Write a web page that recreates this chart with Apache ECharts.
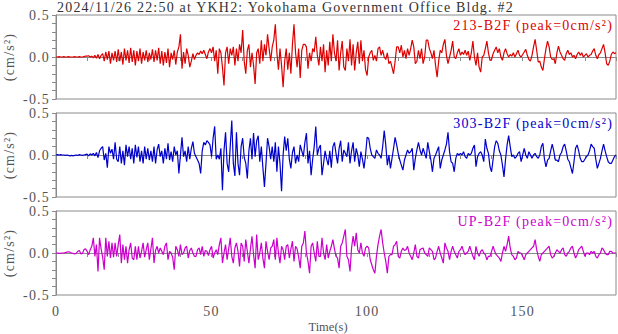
<!DOCTYPE html>
<html>
<head>
<meta charset="utf-8">
<script src="https://cdn.jsdelivr.net/npm/echarts@6/dist/echarts.min.js"></script>
<style>
  html, body { margin: 0; padding: 0; background: #fff; }
  #myChart { width: 618px; height: 334px; }
  #myChart text { letter-spacing: 1.2px; }
</style>
</head>
<body>
<div id="myChart"></div>
<script>
// 记录信息
const titleText = "2024/11/26 22:50 at YKH2: Yokohama Government Office Bldg. #2";
const channels = ["213-B2F", "303-B2F", "UP-B2F"];
const peaks = ["0", "0", "0"];
const xLabels = [0, 50, 100, 150];
const xName = "Time(s)";
const yName = "(cm/s²)";
const dt = 0.5; // 采样间隔 (s)

// 加速度波形 (cm/s2)，每 0.5s 一个点
const acc213 = [
  0, 0, 0.005, 0, 0, 0.005, 0, 0, 0.005, 0,
  0, 0, 0.005, 0, 0, 0.005, 0, 0, 0.005, 0.01,
  0.01, 0.015, 0, 0.01, -0.01, 0.02, -0.015, 0.03, -0.02, 0.02,
  0.04, -0.05, 0.06, -0.03, 0.07, -0.08, 0.05, -0.04, 0.07, -0.06,
  0.09, -0.05, 0.06, -0.09, 0.1, -0.04, 0.08, -0.07, 0.11, -0.06,
  0.08, -0.1, 0.07, -0.05, 0.1, -0.08, 0.06, -0.04, 0.08, -0.06,
  0.05, -0.03, 0.09, -0.06, 0.08, -0.04, 0.11, -0.08, 0.07, -0.1,
  0.06, -0.07, 0.1, -0.12, 0.05, -0.03, 0.08, -0.09, 0.06, 0.12,
  0.27, -0.14, 0.06, -0.08, 0.1, 0.02, -0.12, -0.05, 0.04, -0.03,
  0.02, 0.05, 0.03, 0.07, 0.04, 0.08, 0.03, -0.02, 0.06, 0.1,
  0.05, 0.12, -0.05, 0.08, -0.2, 0.1, 0.05, -0.12, -0.34, 0.05,
  0.12, -0.08, 0.1, 0.02, 0.12, -0.1, 0.1, -0.05, 0.15, 0.05,
  0.32, -0.05, -0.2, 0.08, 0.15, -0.12, 0.05, -0.1, -0.32, 0.05,
  0.1, -0.08, 0.2, -0.05, 0.15, 0.02, 0.27, 0.1, -0.05, 0.12,
  0.2, 0.39, 0.05, -0.15, 0.1, -0.1, -0.36, -0.05, 0.1, -0.15,
  0.05, -0.2, 0.15, 0.39, 0.05, -0.12, 0.1, -0.25, 0.08, 0.15,
  0.15, 0.12, -0.14, 0.05, -0.05, 0.1, 0.06, 0.24, 0.02, -0.1,
  0.12, -0.05, 0.15, -0.18, 0.08, -0.1, 0.18, -0.05, 0.27, 0.05,
  -0.05, 0.2, -0.16, 0.05, 0.19, -0.12, -0.16, 0.1, -0.05, 0.21,
  -0.1, 0.15, -0.16, 0.05, 0.18, -0.08, 0.2, -0.05, 0.08, -0.15,
  -0.22, 0, 0.05, 0.08, -0.04, 0.02, -0.05, 0.1, 0.12, 0.02,
  0.08, 0, -0.03, 0.05, -0.08, -0.05, -0.12, -0.2, -0.05, 0.12,
  0.12, 0.05, 0.14, 0, 0.08, -0.02, 0.1, 0.02, 0.1, 0.2,
  0.12, -0.08, -0.05, 0.08, -0.02, 0.1, -0.08, 0, 0.2, 0.2,
  0.1, 0.05, -0.02, 0.08, -0.1, -0.24, -0.05, 0.08, 0.05, 0.15,
  0.21, 0.02, -0.08, 0, 0.08, 0.19, 0, -0.02, 0.05, 0.1,
  0.02, 0.06, 0.03, 0.08, 0.02, 0.07, -0.04, 0.05, 0.19, 0,
  -0.1, 0.05, -0.12, -0.18, 0, 0.02, 0.1, 0.19, 0.05, -0.04,
  -0.03, 0.04, 0.08, 0.12, 0.05, 0.1, 0, -0.04, 0.05, 0.1,
  0.04, 0, 0.03, 0.01, 0.05, 0, 0.04, 0.08, 0.02, 0,
  0.03, 0.06, 0.09, 0.02, -0.03, -0.05, 0.02, 0.12, 0.21, 0.08,
  -0.06, -0.05, -0.12, -0.16, -0.02, 0.1, 0.19, 0.12, 0, -0.03,
  -0.02, -0.08, 0.05, 0.13, 0.06, 0.02, -0.02, -0.04, 0.04, 0.08,
  0.03, 0.05, 0, 0.02, -0.02, 0.03, 0.06, 0.02, 0.05, 0,
  0.02, 0.04, 0, 0.02, 0.03, 0.07, 0.1, 0.02, -0.02, 0.03,
  0.05, 0.1, 0.15, 0.05, -0.08, -0.1, -0.05, 0.03, 0.06, 0.04, 0.05
];

const acc303 = [
  0, 0.005, 0, 0.005, 0, 0, -0.005, 0, -0.005, -0.01,
  -0.005, -0.01, -0.005, 0, -0.005, 0.005, 0, -0.005, 0, 0.005,
  0.01, -0.01, 0.015, 0, 0.02, -0.01, 0.03, -0.03, 0.05, 0.08,
  0.1, -0.06, 0.02, -0.15, 0.1, 0.02, 0.07, -0.05, 0.15, -0.05,
  -0.08, 0.1, -0.1, 0.05, -0.12, 0.12, -0.02, 0.1, -0.05, 0.08,
  -0.1, 0.12, -0.03, 0.1, -0.08, 0.05, -0.1, 0.1, -0.05, 0.08,
  -0.06, 0.05, -0.08, 0.1, -0.1, 0.06, 0.13, -0.02, 0.05, -0.1,
  0.08, -0.05, 0.14, -0.06, 0.04, -0.08, 0.1, 0, 0.05, -0.22,
  0, 0.21, -0.02, 0.05, -0.08, 0.1, -0.05, 0.08, 0.16, 0.02,
  -0.02, -0.06, -0.1, -0.22, 0.05, 0.15, 0.12, 0.17, 0.15, 0.12,
  -0.02, 0.2, 0.34, -0.05, 0, -0.05, 0.08, -0.42, 0.05, 0.27,
  -0.1, -0.2, 0.1, 0.41, -0.1, -0.25, 0.27, -0.1, -0.24, 0.1,
  0.2, -0.03, -0.1, -0.28, 0.05, 0.2, -0.05, 0.26, -0.02, 0.17,
  0.23, -0.08, 0.1, -0.15, -0.38, -0.1, 0.2, 0.1, -0.05, 0.1,
  -0.08, 0.15, -0.2, 0.1, -0.1, -0.43, 0, 0.22, 0.05, 0.2,
  -0.05, -0.16, 0.03, 0.1, -0.1, 0, -0.08, 0.12, 0.05, -0.02,
  0.15, 0.26, -0.1, 0.05, -0.24, -0.05, 0.1, 0.34, 0, 0.08,
  0.12, -0.24, -0.1, 0.05, -0.05, -0.12, 0.05, -0.15, 0.1, 0.15,
  0.02, -0.1, 0.08, 0.17, -0.08, 0.06, 0.02, -0.02, 0.15, -0.1,
  0.05, 0.15, -0.08, 0.08, 0, -0.14, 0.04, -0.05, -0.16, 0,
  0.21, 0.2, 0.08, 0, -0.02, -0.04, 0.06, 0.02, 0, -0.04,
  0.1, 0.29, 0.12, -0.12, 0, -0.16, -0.04, 0.08, 0.21, 0.12,
  0.02, -0.06, -0.12, -0.18, -0.06, 0, 0.06, 0.02, 0.04, 0.08,
  -0.18, -0.04, 0.06, 0.15, 0.06, 0, 0.08, 0.02, -0.04, 0.15,
  0.04, -0.06, -0.2, -0.04, 0, 0.05, 0.1, -0.16, -0.06, 0,
  0.06, 0.13, 0.27, 0.04, -0.08, -0.1, -0.2, -0.04, 0.02, 0,
  0.02, 0, 0.04, -0.02, -0.04, 0.02, 0, 0.02, 0.08, 0.12,
  -0.14, -0.02, 0.02, 0.04, 0, -0.08, 0.19, 0.08, 0.02, -0.14,
  -0.2, -0.05, 0.1, 0.17, 0.14, 0.05, 0, -0.12, -0.26, -0.05,
  0.12, 0.23, 0.1, -0.02, 0, -0.04, -0.02, 0.02, 0.04, -0.08,
  0, 0.08, 0, -0.04, 0.04, 0, -0.04, 0, 0.02, -0.02,
  -0.04, 0, 0.1, 0.14, -0.05, -0.14, -0.06, -0.04, 0.05, 0.13,
  0.05, -0.06, -0.06, -0.08, 0, 0.03, 0.1, 0.13, 0.05, -0.05,
  -0.08, -0.15, -0.22, -0.08, 0.08, 0.12, 0.05, -0.04, -0.08, -0.08,
  -0.05, -0.02, 0, 0.05, 0.13, 0.1, 0.08, -0.05, -0.16, -0.1,
  -0.04, 0.05, 0.13, 0.05, -0.02, -0.08, -0.1, -0.1, -0.06, -0.02, 0
];

const accUP = [
  0, 0, -0.005, -0.005, 0, 0, 0.005, 0.01, 0.015, 0.01,
  0, -0.005, -0.01, -0.005, 0.02, 0.03, -0.01, -0.005, 0.04, 0.05,
  0.02, -0.02, 0.04, 0.08, 0.18, -0.04, 0.1, -0.22, 0.18, 0.05,
  -0.05, -0.2, 0.18, -0.04, 0.14, -0.06, 0.12, -0.05, 0.12, -0.04,
  0.1, 0.22, -0.12, 0.1, -0.08, 0.08, -0.12, 0.04, 0.12, -0.06,
  -0.08, 0.08, -0.08, 0.08, -0.06, 0.02, 0.12, -0.05, 0.04, 0.12,
  -0.08, 0.05, 0.18, -0.12, 0.03, 0.08, 0, 0.06, 0.02, -0.02,
  0.08, 0.12, -0.08, 0.02, 0, -0.05, -0.2, 0.08, 0.04, -0.04,
  0.1, -0.02, 0, 0.06, 0.08, -0.06, 0.03, 0.06, 0, -0.04,
  -0.04, 0.04, 0.06, -0.02, 0.08, -0.04, 0.03, 0.02, -0.03, 0.04,
  0.08, -0.06, 0, 0.04, -0.02, 0.1, 0.18, -0.12, 0, 0.1,
  -0.08, 0.05, 0.18, -0.04, -0.12, 0.06, 0.12, 0.02, -0.16, 0.12,
  0.08, -0.1, 0.16, 0.02, -0.12, 0.05, 0.2, -0.02, -0.18, 0.22,
  -0.08, 0, 0.12, -0.06, -0.18, 0.14, 0.02, -0.08, 0.06, 0.08,
  0.16, -0.08, 0.18, 0, -0.12, 0.08, 0.04, -0.08, 0.08, 0.1,
  -0.06, 0.05, 0.14, -0.1, 0.08, 0.05, -0.05, -0.18, 0.08, 0.12,
  0.26, 0, -0.1, -0.24, 0.08, 0.12, 0, -0.1, 0.14, -0.04,
  -0.04, 0.18, 0, -0.08, 0.1, -0.06, 0.02, 0.08, 0.16, 0.05,
  -0.04, -0.06, -0.18, 0.08, 0.12, 0.2, 0.28, -0.04, -0.08, -0.22,
  0.06, 0.2, 0.08, 0.24, 0.04, 0, 0.12, 0, -0.04, 0.06,
  0.08, 0.06, -0.08, -0.14, -0.2, -0.24, -0.04, 0.1, 0.2, 0.28,
  0.12, 0, -0.1, -0.24, -0.04, -0.02, -0.02, 0.08, 0.1, 0.14,
  -0.04, -0.06, 0.02, 0.06, 0.03, 0.04, 0.08, 0, -0.04, -0.08,
  0, 0.1, -0.04, -0.06, 0.04, 0.05, 0.06, 0, -0.02, -0.04,
  0.06, 0.04, 0.02, -0.08, -0.06, 0.02, 0.08, 0, -0.06, -0.12,
  0.12, 0.06, 0.02, -0.08, 0.02, 0.08, 0.02, -0.02, -0.06, 0.02,
  0.04, 0.08, 0.02, -0.02, 0, 0.02, 0.08, 0.02, -0.04, -0.08,
  0.08, 0, -0.04, 0.02, 0.04, 0, -0.02, -0.08, -0.04, -0.04,
  0.02, 0.08, 0.02, -0.02, -0.04, -0.06, -0.1, 0, 0.08, 0.02,
  0.1, 0.2, 0.06, -0.02, -0.04, -0.08, -0.06, 0.02, 0, 0,
  -0.04, -0.08, -0.02, 0, 0.02, 0.04, 0.06, 0.08, 0.16, 0.04,
  -0.04, -0.1, -0.02, 0, 0.02, 0.04, 0.06, 0.08, -0.02, -0.06,
  -0.04, 0, 0.04, 0.02, 0, 0.04, 0.06, -0.02, -0.04, 0,
  0.02, 0.06, 0.08, 0, -0.06, -0.02, 0.04, 0.06, 0.08, 0.02,
  -0.04, 0, 0, -0.02, 0.02, 0, 0.02, -0.04, -0.06, -0.02,
  0, 0.06, 0.04, 0, -0.02, -0.02, 0.02, 0.02, 0, 0, 0
];

const waves = [acc213, acc303, accUP];
const colors = ["#dd0000", "#0000cc", "#cc00cc"];
const tops = [15, 113, 211];
const font = "Liberation Serif";
const axisColor = "#8a8a8a";

let myChart = echarts.init(document.getElementById("myChart"), null, { renderer: "svg" });

let grids = [], xAxes = [], yAxes = [], series = [], texts = [];
waves.forEach(function(wave, k) {
  let last = k === waves.length - 1;
  grids.push({
    left: 56, top: tops[k], width: 560, height: 84,
    outerBoundsMode: "none",
    show: true, borderColor: axisColor, borderWidth: 1
  });
  xAxes.push({
    gridIndex: k, type: "value", min: 0, max: 180, interval: 10,
    axisLine: { lineStyle: { color: axisColor } },
    axisTick: { length: 4, lineStyle: { color: axisColor } },
    splitLine: { show: false },
    axisLabel: {
      show: last, margin: 9, color: "#555", fontFamily: font, fontSize: 14,
      formatter: function(v) { return xLabels.indexOf(v) >= 0 ? String(v) : ""; }
    }
  });
  yAxes.push({
    gridIndex: k, type: "value", min: -0.5, max: 0.5, interval: 0.5,
    axisLine: { lineStyle: { color: axisColor } },
    axisTick: { length: 4, lineStyle: { color: axisColor } },
    minorTick: { show: true, splitNumber: 5, length: 4, lineStyle: { color: axisColor } },
    splitLine: { show: false },
    axisLabel: {
      margin: 6, color: "#555", fontFamily: font, fontSize: 14,
      formatter: function(v) { return v.toFixed(1); }
    },
    name: yName, nameLocation: "middle", nameGap: 40,
    nameTextStyle: { color: "#555", fontFamily: font, fontSize: 14 }
  });
  series.push({
    type: "line", xAxisIndex: k, yAxisIndex: k,
    showSymbol: false, animation: false,
    lineStyle: { color: colors[k], width: 1.2 },
    data: wave.map(function(v, i) { return [i * dt, v]; })
  });
  texts.push({
    type: "text", x: 613, y: tops[k] + 10,
    style: {
      text: channels[k] + " (peak=" + peaks[k] + "cm/s²)",
      fill: colors[k], font: "14px '" + font + "'",
      textAlign: "right", textVerticalAlign: "middle"
    }
  });
});

// 标题
texts.push({
  type: "text", x: 57, y: 7,
  style: {
    text: titleText, fill: "#333", font: "14px '" + font + "'",
    textAlign: "left", textVerticalAlign: "middle"
  }
});
// 横轴名
texts.push({
  type: "text", x: 328, y: 327,
  style: {
    text: xName, fill: "#555", font: "12.5px '" + font + "'",
    textAlign: "center", textVerticalAlign: "middle"
  }
});

let option = {
  animation: false,
  backgroundColor: "#fff",
  grid: grids,
  xAxis: xAxes,
  yAxis: yAxes,
  series: series,
  graphic: texts
};
myChart.setOption(option);

// 横轴名不加字距
document.querySelectorAll("#myChart text").forEach(function(t) {
  if (t.textContent === xName) t.style.letterSpacing = "0px";
});
</script>
</body>
</html>
